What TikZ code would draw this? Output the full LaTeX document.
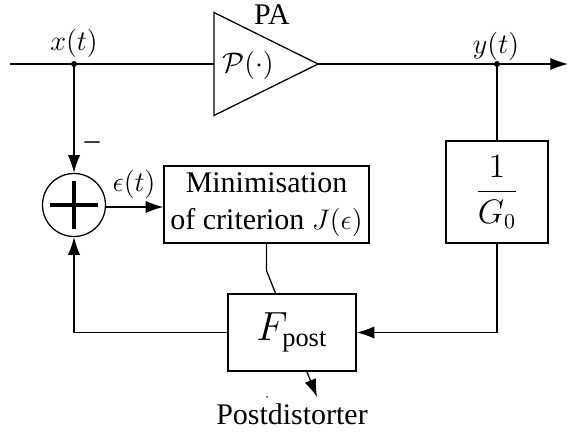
\documentclass[tikz,border=0pt]{standalone}
\usepackage{fontspec}
\setmainfont{Liberation Serif}
\usetikzlibrary{arrows.meta}
\begin{document}
\begin{tikzpicture}[x=0.424pt,y=-0.424pt,
  font=\fontsize{12.7}{15.8}\selectfont, line width=0.55pt,
  box/.style={draw, fill=white, inner sep=0pt, align=center},
  arr/.style={-{Latex[length=7.5pt,width=5.2pt]}},
  lbl/.style={inner sep=0pt}]
\useasboundingbox (0,0) rectangle (569,432);
% coordinates on the main line
\coordinate (in) at (10,64);
\coordinate (xd) at (74,64);
\coordinate (pal) at (214,64);
\coordinate (pat) at (214,12.5);
\coordinate (pab) at (214,115.5);
\coordinate (pax) at (318,64);
\coordinate (yd) at (497,64);
\coordinate (out) at (568,64);
\coordinate (tip) at (317,397);
% PA triangle
\draw (pat) -- (pax) -- (pab) -- cycle;
\node[lbl] (pal1) at (248,65) {$\mathcal{P}(\cdot)$};
\node[lbl] (palbl) at (272,15) {PA};
% blocks
\node[box, minimum width=205*0.424pt, minimum height=77*0.424pt] (min) at (266.5,204.5)
  {Minimisation\\of criterion $J(\epsilon)$};
\node[box, minimum width=102*0.424pt, minimum height=102*0.424pt] (g) at (497,192)
  {\fontsize{13.5}{16}\selectfont$\displaystyle\frac{1}{G_0}$};
\node[draw, circle, minimum size=63*0.424pt, inner sep=0pt] (sum) at (74,205) {};
\draw[line width=1.3pt] ([xshift=-24*0.424pt]sum.center) -- ([xshift=24*0.424pt]sum.center);
\draw[line width=1.3pt] ([yshift=-24*0.424pt]sum.center) -- ([yshift=24*0.424pt]sum.center);
% adaptation arrow (behind F_post)
\draw[arr] (min.south) -- ++(0,27) -- (tip);
\node[box, minimum width=128*0.424pt, minimum height=77*0.424pt] (post) at (292,332.5)
  {\fontsize{16}{18}\selectfont$F_{\mathrm{post}}$};
% connectors
\draw (in) -- (xd) -- (pal);
\draw (pax) -- (yd);
\draw[arr] (yd) -- (out);
\fill (xd) circle (3);
\fill (yd) circle (3);
\draw[arr] (xd) -- (sum.north);
\draw (yd) -- (g.north);
\draw[arr] (sum.east) ++(0,2) -- ([yshift=-2*0.424pt]sum.east -| min.west);
\draw[arr] (g.south) |- (post.east);
\draw[arr] (post.west) -| (sum.south);
% labels
\node[lbl] (xl) at (74,43) {$x(t)$};
\node[lbl] (yl) at (496,46) {$y(t)$};
\node[lbl] (ml) at (92,146) {--};
\node[lbl] (el) at (134,184) {$\epsilon(t)$};
\node[lbl] (pd) at (292,414) {Postdistorter};
\fill (267,397) circle (0.8);
\end{tikzpicture}
\end{document}
